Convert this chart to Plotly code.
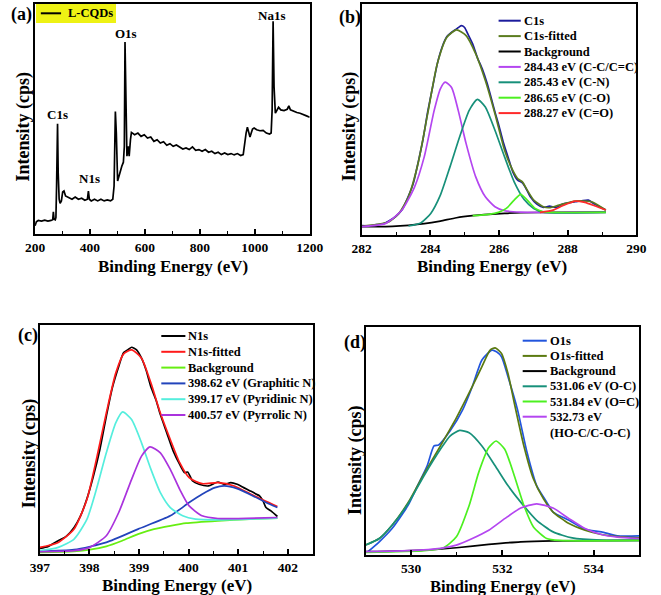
import plotly.graph_objects as go

W, H = 661, 595
FONT = "Liberation Serif, Times New Roman, serif"

# ---------------- (a) survey spectrum ----------------
a_x = [200.0, 204.7, 211.7, 223.4, 235.1, 246.8, 258.5, 264.3, 266.7, 269.0, 273.7, 276.0, 278.4,
       281.9, 284.2, 287.7, 291.2, 295.9, 300.6, 305.3, 311.1, 322.8, 334.5, 346.2, 357.9, 369.6,
       381.3, 390.6, 394.2, 397.7, 404.7, 416.4, 428.1, 439.8, 451.5, 463.2, 474.9, 483.0, 487.7,
       492.4, 495.9, 500.6, 505.3, 510.0, 515.8, 521.6, 525.1, 527.5, 531.0, 534.5, 539.2, 542.7,
       547.4, 550.9, 562.6, 574.3, 586.0, 597.7, 609.4, 621.1, 632.7, 644.4, 656.1, 667.8, 679.5,
       691.2, 702.9, 714.6, 726.3, 738.0, 749.7, 761.4, 773.1, 784.8, 796.5, 808.2, 819.9, 831.6,
       843.3, 855.0, 866.7, 878.4, 890.1, 901.8, 913.5, 925.1, 936.8, 948.5, 957.9, 962.6, 968.4,
       973.1, 977.8, 982.5, 987.1, 991.8, 997.7, 1007.0, 1018.7, 1030.4, 1042.1, 1053.8, 1059.6,
       1063.2, 1066.7, 1070.2, 1074.9, 1080.7, 1086.6, 1094.7, 1106.4, 1118.1, 1124.0, 1129.8,
       1141.5, 1153.2, 1164.9, 1176.6, 1188.3, 1200.0]
a_y = [25, 37, 41, 39, 42, 39, 41, 43, 67, 45, 43, 50, 145,
       333, 185, 105, 93, 100, 127, 130, 115, 109, 105, 112, 105, 108,
       102, 105, 130, 105, 100, 105, 100, 105, 100, 103, 100, 105, 145,
       370, 305, 160, 175, 195, 205, 217, 265, 580, 305, 235, 265, 235,
       285, 307, 300, 305, 295, 300, 290, 293, 280, 285, 275, 279, 268,
       273, 265, 269, 263, 257, 260, 255, 263, 253, 255, 250, 255, 247,
       250, 243, 247, 240, 245, 240, 243, 239, 243, 237, 240, 275, 305,
       323, 310, 293, 305, 317, 320, 315, 312, 313, 305, 302, 305,
       375, 643, 445, 365, 375, 383, 375, 373, 377, 387, 375,
       370, 367, 365, 360, 357, 353]
a_name = "L-CQDs"
a_peak_labels = ["C1s", "N1s", "O1s", "Na1s"]
a_peak_x = [281.9, 398.8, 529.8, 1059.6]
a_peak_y = [360, 167, 605, 660]

# ---------------- (b) C1s ----------------
b_raw_x = [282.00, 282.23, 282.42, 282.61, 282.80, 282.98, 283.17, 283.36, 283.50, 283.64, 283.78,
           283.92, 284.06, 284.20, 284.34, 284.48, 284.62, 284.76, 284.85, 284.90, 284.99, 285.09,
           285.23, 285.37, 285.51, 285.65, 285.79, 285.88, 285.98, 286.12, 286.26, 286.40, 286.54,
           286.68, 286.77, 286.91, 287.10, 287.29, 287.47, 287.66, 287.85, 288.04, 288.22, 288.41,
           288.60, 288.78, 288.97, 289.11]
b_raw_y = [28, 27, 31, 33, 43, 55, 75, 117, 155, 217, 285,
           370, 443, 515, 565, 597, 610, 620, 627, 630, 625, 605,
           575, 533, 500, 457, 405, 370, 335, 280, 235, 190, 165,
           157, 143, 115, 93, 83, 87, 83, 93, 97, 100, 103,
           105, 93, 83, 75]
b_fit_x = [282.00, 282.42, 282.80, 283.08, 283.36, 283.64, 283.92, 284.20, 284.48, 284.76, 285.04,
           285.32, 285.60, 285.88, 286.16, 286.35, 286.54, 286.68, 286.82, 287.01, 287.29, 287.47,
           287.75, 288.22, 288.69, 289.11]
b_fit_y = [27, 31, 40, 65, 115, 215, 365, 515, 595, 617, 600,
           545, 465, 365, 255, 205, 170, 160, 135, 105, 85, 82,
           90, 102, 100, 75]
b_bg_x = [282.00, 282.89, 283.36, 283.82, 284.29, 284.76, 285.23, 285.70, 286.16, 286.63, 287.57, 289.11]
b_bg_y = [25, 26, 29, 34, 42, 52, 58, 62, 65, 67, 68, 69]
b_p1_x = [282.00, 282.70, 283.17, 283.54, 283.82, 284.11, 284.29, 284.43, 284.62, 284.81, 285.04,
          285.32, 285.60, 285.88, 286.16, 286.63, 289.11]
b_p1_y = [25, 35, 75, 145, 235, 375, 440, 460, 443, 375, 275,
          175, 115, 85, 73, 69, 68]
b_p2_x = [283.36, 283.73, 284.01, 284.29, 284.57, 284.85, 285.13, 285.37, 285.60, 285.88, 286.16,
          286.44, 286.73, 287.01, 287.29, 289.11]
b_p2_y = [27, 37, 65, 120, 205, 295, 375, 408, 385, 315, 235,
          160, 107, 80, 69, 68]
b_p3_x = [285.23, 285.70, 285.98, 286.21, 286.44, 286.63, 286.82, 287.05, 287.29, 287.57, 289.11]
b_p3_y = [58, 62, 68, 80, 105, 122, 105, 80, 70, 68, 68]
b_p4_x = [287.19, 287.57, 287.85, 288.22, 288.50, 288.78, 289.11]
b_p4_y = [68, 75, 88, 102, 98, 88, 75]
b_names = ["C1s", "C1s-fitted", "Background", "284.43 eV (C-C/C=C)", "285.43 eV (C-N)",
           "286.65 eV (C-O)", "288.27 eV (C=O)"]
b_colors = ["#1c1c9c", "#5b7c1f", "#000000", "#b446f0", "#17907a", "#4cf020", "#ff2a2a"]

# ---------------- (c) N1s ----------------
c_raw_x = [397.00, 397.17, 397.37, 397.53, 397.69, 397.82, 397.95, 398.08, 398.21, 398.34, 398.46,
           398.59, 398.69, 398.79, 398.85, 398.95, 399.05, 399.14, 399.24, 399.34, 399.43, 399.56,
           399.69, 399.82, 399.92, 399.98, 400.08, 400.21, 400.40, 400.59, 400.72, 400.85, 400.98,
           401.11, 401.24, 401.37, 401.43, 401.50, 401.56, 401.66, 401.79]
c_raw_y = [17, 23, 40, 53, 80, 115, 167, 235, 315, 415, 500,
           565, 607, 617, 623, 615, 590, 555, 503, 465, 420, 365,
           310, 270, 245, 247, 220, 210, 205, 217, 210, 215, 210,
           200, 190, 180, 175, 160, 140, 130, 113]
c_fit_x = [397.00, 397.37, 397.69, 397.95, 398.14, 398.34, 398.53, 398.69, 398.85, 399.05, 399.24,
           399.43, 399.63, 399.82, 400.01, 400.27, 400.59, 400.92, 401.30, 401.79]
c_fit_y = [20, 35, 75, 165, 285, 425, 545, 603, 615, 590, 515,
           425, 345, 275, 230, 212, 215, 205, 177, 143]
c_bg_x = [397.00, 397.69, 398.01, 398.34, 398.66, 398.98, 399.30, 399.63, 399.95, 400.59, 401.24, 401.79]
c_bg_y = [5, 8, 13, 23, 40, 60, 75, 85, 93, 100, 105, 108]
c_p1_x = [397.00, 397.69, 398.34, 398.98, 399.63, 400.01, 400.27, 400.53, 400.72, 400.98, 401.30,
          401.56, 401.79]
c_p1_y = [8, 13, 35, 75, 115, 155, 180, 200, 205, 197, 175, 155, 140]
c_p2_x = [397.00, 397.37, 397.69, 397.95, 398.14, 398.34, 398.53, 398.67, 398.85, 399.05, 399.24,
          399.43, 399.63, 399.88, 400.14, 400.59, 401.79]
c_p2_y = [10, 20, 45, 105, 195, 305, 395, 428, 405, 335, 255,
          185, 140, 115, 105, 103, 108]
c_p3_x = [397.00, 397.69, 398.01, 398.34, 398.59, 398.85, 399.05, 399.22, 399.43, 399.63, 399.82,
          400.01, 400.27, 400.59, 401.79]
c_p3_y = [7, 10, 20, 55, 125, 225, 295, 323, 305, 255, 195,
          145, 115, 107, 110]
c_names = ["N1s", "N1s-fitted", "Background", "398.62 eV (Graphitic N)",
           "399.17 eV (Pyridinic N)", "400.57 eV (Pyrrolic N)"]
c_colors = ["#000000", "#ff1a1a", "#66ee11", "#2244bb", "#55eedd", "#aa33dd"]

# ---------------- (d) O1s ----------------
d_raw_x = [529.05, 529.30, 529.58, 529.93, 530.14, 530.35, 530.50, 530.60, 530.85, 531.13, 531.34,
           531.55, 531.77, 531.87, 531.98, 532.12, 532.33, 532.54, 532.75, 532.97, 533.11, 533.46,
           533.81, 534.17, 534.52, 535.00]
d_raw_y = [10, 40, 80, 150, 210, 270, 330, 333, 375, 440, 510,
           590, 620, 615, 600, 540, 440, 310, 210, 160, 130, 105,
           78, 70, 58, 58]
d_fit_x = [529.00, 529.30, 529.58, 529.93, 530.28, 530.64, 530.99, 531.34, 531.55, 531.73, 531.84,
           531.98, 532.12, 532.26, 532.47, 532.68, 532.90, 533.11, 533.46, 533.81, 534.17, 534.52,
           535.00]
d_fit_y = [30, 50, 90, 158, 245, 330, 415, 510, 570, 620, 627,
           610, 550, 460, 330, 230, 170, 130, 95, 75, 62, 56,
           52]
d_bg_x = [529.00, 530.28, 530.99, 531.70, 532.40, 533.11, 535.00]
d_bg_y = [10, 15, 22, 32, 40, 43, 44]
d_p1_x = [529.00, 529.30, 529.58, 529.93, 530.28, 530.64, 530.85, 531.06, 531.27, 531.55, 531.84,
          532.12, 532.40, 532.75, 533.11, 533.53, 534.17, 535.00]
d_p1_y = [30, 50, 90, 155, 240, 320, 360, 377, 370, 330, 270,
          210, 160, 105, 70, 52, 45, 44]
d_p2_x = [529.00, 530.28, 530.71, 530.99, 531.27, 531.48, 531.70, 531.86, 532.05, 532.26, 532.47,
          532.68, 532.97, 533.25, 535.00]
d_p2_y = [8, 13, 22, 55, 150, 250, 325, 345, 320, 240, 150,
          85, 50, 44, 44]
d_p3_x = [529.00, 529.93, 530.64, 530.99, 531.34, 531.70, 532.05, 532.40, 532.75, 533.11, 533.46,
          533.81, 534.17, 534.52, 535.00]
d_p3_y = [10, 13, 20, 30, 50, 75, 110, 142, 155, 142, 110,
          80, 62, 54, 50]
d_names = ["O1s", "O1s-fitted", "Background", "531.06 eV (O-C)", "531.84 eV (O=C)",
           "532.73 eV<br>(HO-C/C-O-C)"]
d_colors = ["#2255dd", "#5b7a10", "#000000", "#17907a", "#4cf020", "#b446f0"]

# ---------------- figure ----------------
def px(x):
    return x / W


def py(y):
    return 1 - y / H


fig = go.Figure()

LW = 1.7
fig.add_trace(go.Scatter(x=a_x, y=a_y, mode="lines", name=a_name,
                         line=dict(color="black", width=LW), xaxis="x", yaxis="y", showlegend=False))

b_series = [(b_raw_x, b_raw_y), (b_fit_x, b_fit_y), (b_bg_x, b_bg_y), (b_p1_x, b_p1_y),
            (b_p2_x, b_p2_y), (b_p3_x, b_p3_y), (b_p4_x, b_p4_y)]
for (xs, ys), n, c in zip(b_series, b_names, b_colors):
    fig.add_trace(go.Scatter(x=xs, y=ys, mode="lines", name=n, line=dict(color=c, width=LW, shape="spline", smoothing=0.6),
                             xaxis="x2", yaxis="y2", showlegend=False))

c_series = [(c_raw_x, c_raw_y), (c_fit_x, c_fit_y), (c_bg_x, c_bg_y), (c_p1_x, c_p1_y),
            (c_p2_x, c_p2_y), (c_p3_x, c_p3_y)]
for (xs, ys), n, c in zip(c_series, c_names, c_colors):
    fig.add_trace(go.Scatter(x=xs, y=ys, mode="lines", name=n, line=dict(color=c, width=LW, shape="spline", smoothing=0.6),
                             xaxis="x3", yaxis="y3", showlegend=False))

d_series = [(d_raw_x, d_raw_y), (d_fit_x, d_fit_y), (d_bg_x, d_bg_y), (d_p1_x, d_p1_y),
            (d_p2_x, d_p2_y), (d_p3_x, d_p3_y)]
for (xs, ys), n, c in zip(d_series, d_names, d_colors):
    fig.add_trace(go.Scatter(x=xs, y=ys, mode="lines", name=n, line=dict(color=c, width=LW, shape="spline", smoothing=0.6),
                             xaxis="x4", yaxis="y4", showlegend=False))

tickfont = dict(family=FONT, size=13.5, color="black", weight="bold")


def xax(domain, rng, dtick, minor, anchor):
    return dict(domain=domain, range=rng, dtick=dtick, tick0=0, ticks="inside", ticklen=5,
                tickwidth=1.5, tickcolor="black",
                minor=dict(dtick=minor, tick0=0, ticks="inside", ticklen=3, tickwidth=1.3, tickcolor="black"),
                showline=True, linecolor="black", linewidth=2, mirror=True,
                tickfont=tickfont, ticklabelstandoff=0, showgrid=False, zeroline=False, anchor=anchor)


def yax(domain, rng, anchor):
    return dict(domain=domain, range=rng, showticklabels=False, ticks="", showline=True,
                linecolor="black", linewidth=2, mirror=True, showgrid=False, zeroline=False, anchor=anchor)


dom_a = ([px(26), px(311)], [py(234), py(4)])
dom_b = ([px(365), px(650)], [py(235), py(4)])
dom_c = ([px(31), px(314)], [py(554), py(325)])
dom_d = ([px(369), px(653)], [py(555), py(327)])

fig.update_layout(
    width=W, height=H, margin=dict(l=0, r=0, t=0, b=0),
    paper_bgcolor="white", plot_bgcolor="white", showlegend=False,
    xaxis=xax(dom_a[0], [200, 1200], 200, 100, "y"),
    yaxis=yax(dom_a[1], [0, 695], "x"),
    xaxis2=xax(dom_b[0], [282, 290], 2, 1, "y2"),
    yaxis2=yax(dom_b[1], [0, 695], "x2"),
    xaxis3=xax(dom_c[0], [397, 402.5], 1, 0.5, "y3"),
    yaxis3=yax(dom_c[1], [0, 690], "x3"),
    xaxis4=xax(dom_d[0], [529, 535], 2, 1, "y4"),
    yaxis4=yax(dom_d[1], [0, 690], "x4"),
)

ann = []
shapes = []
bold = dict(family=FONT, color="black", weight="bold")


def txt(x, y, t, size, angle=0, xanchor="center", yanchor="middle"):
    ann.append(dict(x=px(x), y=py(y), xref="paper", yref="paper", text=t, showarrow=False,
                    textangle=angle, xanchor=xanchor, yanchor=yanchor,
                    font=dict(size=size, **bold)))


# axis titles
for (x, y, s) in [(169, 266, 17), (500, 266, 17), (173, 585, 17), (512, 586, 16.5)]:
    txt(x, y, "Binding Energy (eV)", s)
for (x, y) in [(14, 126), (352, 126), (20, 453), (358, 460)]:
    txt(x, y, "Intensity (cps)", 18, angle=-90)
# panel labels
for (x, y, t) in [(12, 14, "(a)"), (353, 17, "(b)"), (19, 335, "(c)"), (358, 342, "(d)")]:
    txt(x, y, t, 18)

# peak labels in (a)
for t, x, y in zip(a_peak_labels, a_peak_x, a_peak_y):
    ann.append(dict(x=x, y=y, xref="x", yref="y", text=t, showarrow=False,
                    font=dict(size=13, **bold)))

# legend (a)
shapes.append(dict(type="rect", xref="paper", yref="paper", x0=px(27), x1=px(110), y0=py(23), y1=py(4),
                   fillcolor="#eef214", line=dict(width=0), layer="above"))
shapes.append(dict(type="line", xref="paper", yref="paper", x0=px(32), x1=px(53), y0=py(13.3), y1=py(13.3),
                   line=dict(color="black", width=2)))
txt(58, 13.3, a_name, 12.5, xanchor="left")


def legend(names, colors, x_line0, x_line1, x_text, y0, step):
    for i, (n, c) in enumerate(zip(names, colors)):
        y = y0 + i * step
        shapes.append(dict(type="line", xref="paper", yref="paper", x0=px(x_line0), x1=px(x_line1),
                           y0=py(y), y1=py(y), line=dict(color=c, width=2)))
        if "<br>" in n:
            ann.append(dict(x=px(x_text), y=py(y - 8.5), xref="paper", yref="paper", text=n, showarrow=False,
                            xanchor="left", yanchor="top", align="left", font=dict(size=12.5, **bold)))
        else:
            txt(x_text, y, n, 12.5, xanchor="left")


legend(b_names, b_colors, 507, 530, 531, 20.7, 15.4)
legend(c_names, c_colors, 157, 182, 182.5, 336, 15.8)
legend(d_names, d_colors, 532, 557, 558.5, 340.7, 15.2)

fig.update_layout(annotations=ann, shapes=shapes)

fig.write_html("out.html", config={"displayModeBar": False},
               post_script="document.body.style.margin='0';")
